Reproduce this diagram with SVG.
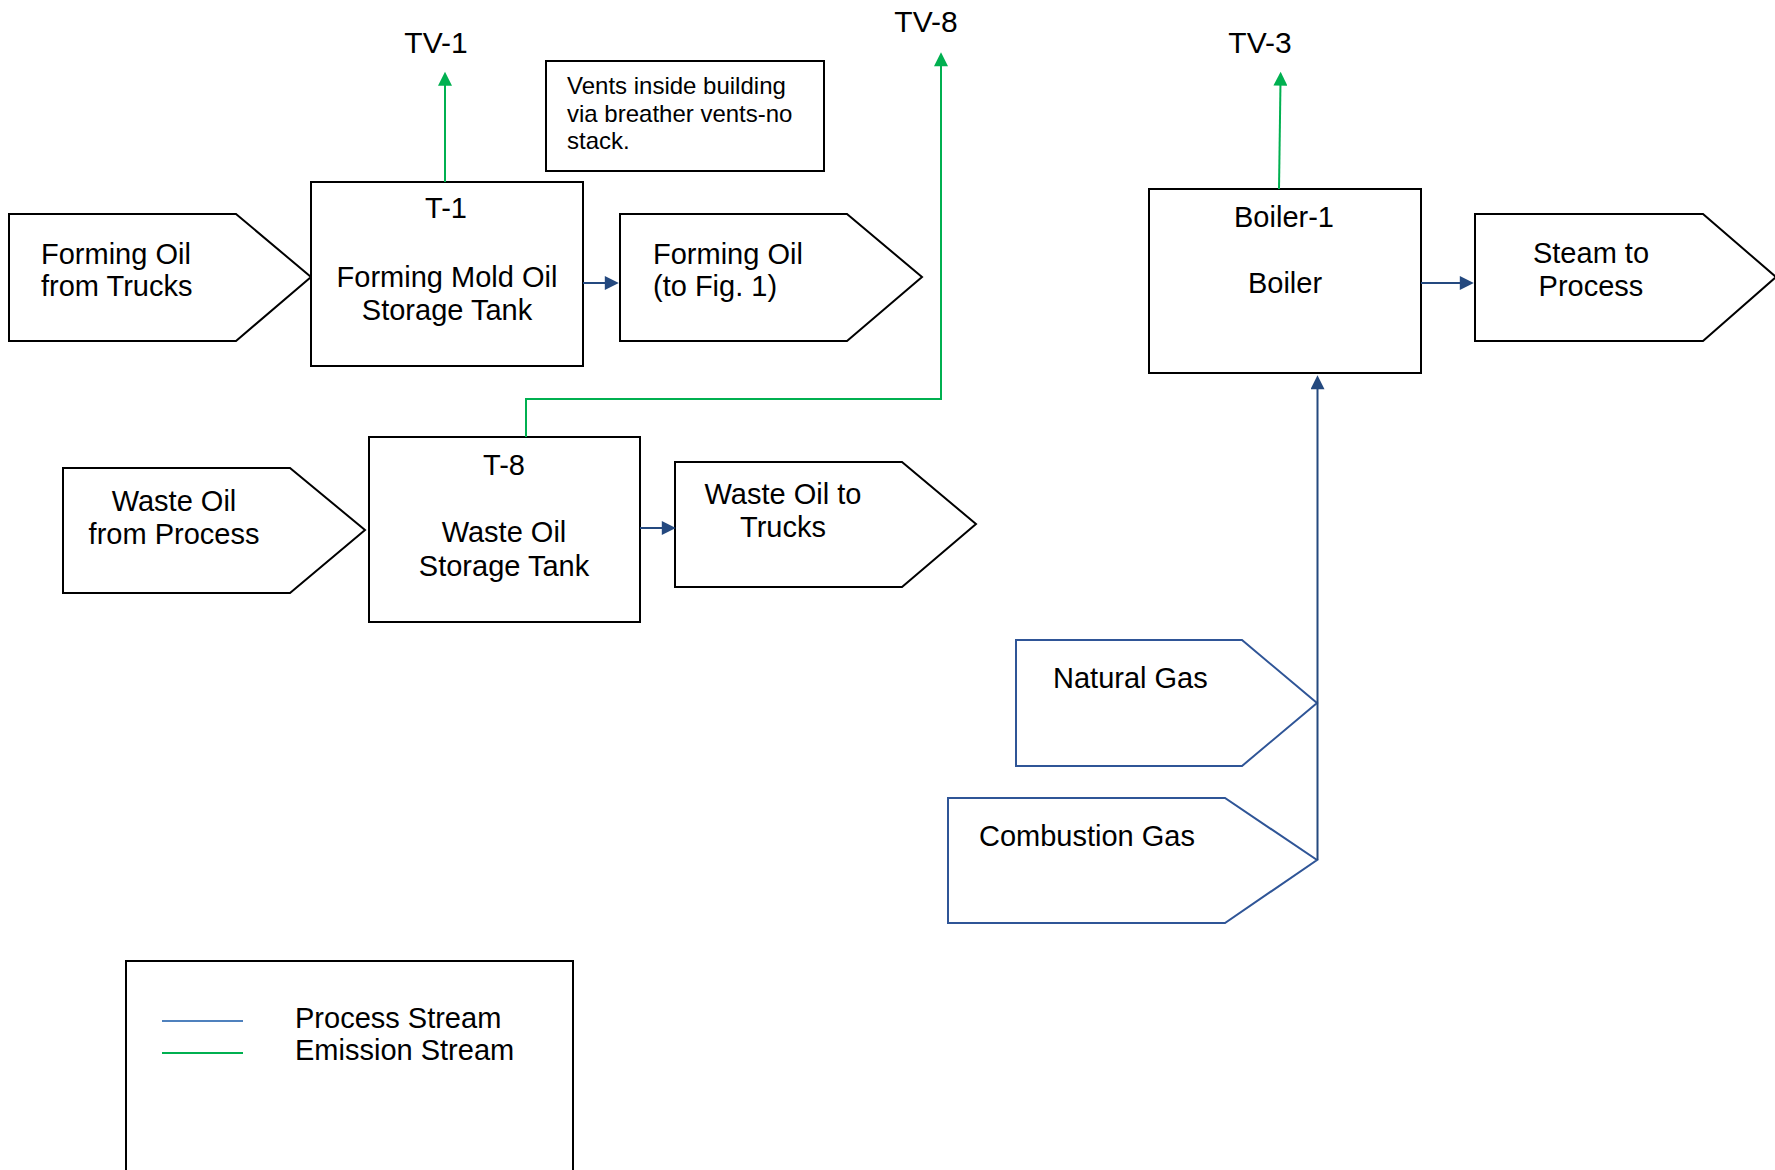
<svg xmlns="http://www.w3.org/2000/svg" width="1775" height="1170" viewBox="0 0 1775 1170">
<style>
.box{fill:#fff;stroke:#000;stroke-width:2}
.gbox{fill:#fff;stroke:#2f5597;stroke-width:2}
.t{font-family:"Liberation Sans",Arial,sans-serif;font-size:29px;fill:#000}
.c{text-anchor:middle}
.tv{font-size:30px}
.sm{font-size:24px}
.em{fill:none;stroke:#00b050;stroke-width:2}
.pr{fill:none;stroke:#24497f;stroke-width:2}
</style>
<defs>
<marker id="ag" viewBox="0 0 10 10" refX="3" refY="5" markerWidth="15" markerHeight="14" markerUnits="userSpaceOnUse" orient="auto"><path d="M0,0 L10,5 L0,10 z" fill="#00b050"/></marker>
<marker id="ab" viewBox="0 0 10 10" refX="3" refY="5" markerWidth="16" markerHeight="14" markerUnits="userSpaceOnUse" orient="auto"><path d="M0,0 L10,5 L0,10 z" fill="#24497f"/></marker>
</defs>
<rect width="1775" height="1170" fill="#fff"/>

<g id="labels">
<text class="t tv c" x="436" y="53">TV-1</text>
<text class="t tv c" x="926" y="32">TV-8</text>
<text class="t tv c" x="1260" y="53">TV-3</text>
</g>

<g id="note">
<rect class="box" x="546" y="61" width="278" height="110"/>
<text class="t sm" x="567" y="94">Vents inside building</text>
<text class="t sm" x="567" y="122">via breather vents-no</text>
<text class="t sm" x="567" y="149">stack.</text>
</g>

<g id="forming-oil-in">
<polygon class="box" points="9,214 236,214 311,277 236,341 9,341"/>
<text class="t" x="41" y="264">Forming Oil</text>
<text class="t" x="41" y="296">from Trucks</text>
</g>

<g id="t1">
<rect class="box" x="311" y="182" width="272" height="184"/>
<text class="t c" x="446" y="218">T-1</text>
<text class="t c" x="447" y="287">Forming Mold Oil</text>
<text class="t c" x="447" y="320">Storage Tank</text>
</g>

<g id="forming-oil-out">
<polygon class="box" points="620,214 847,214 922,277 847,341 620,341"/>
<text class="t" x="653" y="264">Forming Oil</text>
<text class="t" x="653" y="296">(to Fig. 1)</text>
</g>

<g id="boiler">
<rect class="box" x="1149" y="189" width="272" height="184"/>
<text class="t c" x="1284" y="227">Boiler-1</text>
<text class="t c" x="1285" y="293">Boiler</text>
</g>

<g id="steam">
<polygon class="box" points="1475,214 1703,214 1776,277 1703,341 1475,341"/>
<text class="t c" x="1591" y="263">Steam to</text>
<text class="t c" x="1591" y="296">Process</text>
</g>

<g id="waste-oil-in">
<polygon class="box" points="63,468 290,468 365,530 290,593 63,593"/>
<text class="t c" x="174" y="511">Waste Oil</text>
<text class="t c" x="174" y="544">from Process</text>
</g>

<g id="t8">
<rect class="box" x="369" y="437" width="271" height="185"/>
<text class="t c" x="504" y="475">T-8</text>
<text class="t c" x="504" y="542">Waste Oil</text>
<text class="t c" x="504" y="576">Storage Tank</text>
</g>

<g id="waste-oil-out">
<polygon class="box" points="675,462 902,462 976,524 902,587 675,587"/>
<text class="t c" x="783" y="504">Waste Oil to</text>
<text class="t c" x="783" y="537">Trucks</text>
</g>

<g id="natural-gas">
<polygon class="gbox" points="1016,640 1242,640 1317,703 1242,766 1016,766"/>
<text class="t" x="1053" y="688">Natural Gas</text>
</g>

<g id="combustion-gas">
<polygon class="gbox" points="948,798 1225,798 1317,860 1225,923 948,923"/>
<text class="t" x="979" y="846">Combustion Gas</text>
</g>

<g id="connectors">
<path class="em" d="M445,182 V81.5" marker-end="url(#ag)"/>
<path class="em" d="M526,437 V399 H941 V62" marker-end="url(#ag)"/>
<path class="em" d="M1279,189 L1280.5,81.5" marker-end="url(#ag)"/>
<path class="pr" d="M583,283 H609" marker-end="url(#ab)"/>
<path class="pr" d="M640,528 H666" marker-end="url(#ab)"/>
<path class="pr" d="M1421,283 H1464" marker-end="url(#ab)"/>
<path class="pr" d="M1317.5,860 V385" marker-end="url(#ab)"/>
</g>

<g id="legend">
<rect class="box" x="126" y="961" width="447" height="220"/>
<line x1="162" y1="1021" x2="243" y2="1021" stroke="#4f81bd" stroke-width="2"/>
<line x1="162" y1="1053" x2="243" y2="1053" stroke="#00b050" stroke-width="2"/>
<text class="t" x="295" y="1028">Process Stream</text>
<text class="t" x="295" y="1060">Emission Stream</text>
</g>
</svg>
